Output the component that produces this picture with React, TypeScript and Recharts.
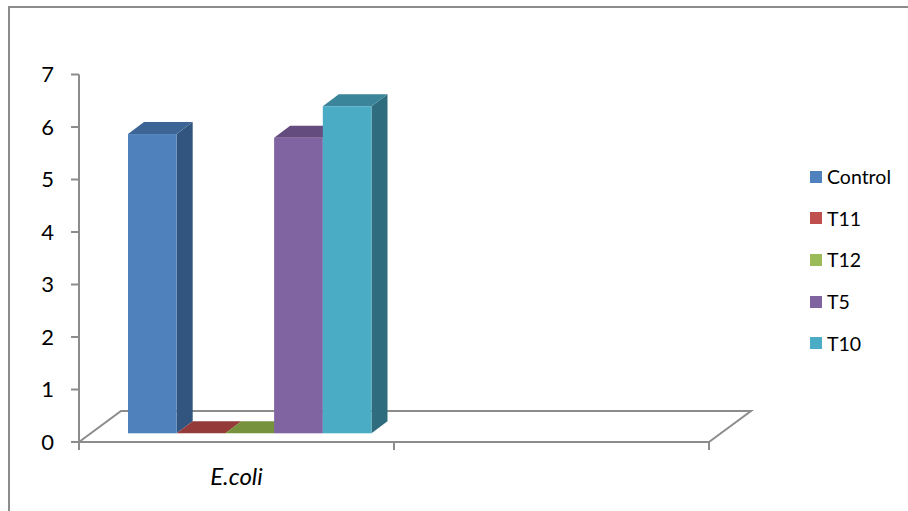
import React from 'react';
import { BarChart, Bar, XAxis, YAxis, Legend, Customized } from 'recharts';

const categories = ['E.coli', ''];
const seriesNames = ['Control', 'T11', 'T12', 'T5', 'T10'];
const controlValues = [5.7, null];
const t11Values = [0, null];
const t12Values = [0, null];
const t5Values = [5.63, null];
const t10Values = [6.23, null];
const yTicks = [0, 1, 2, 3, 4, 5, 6, 7];

const frontColors = ['#4F81BD', '#C0504D', '#9BBB59', '#8064A2', '#4BACC6'];
const topColors = ['#3C6494', '#943A38', '#76923C', '#644C7E', '#3A8599'];
const sideColors = ['#32557F', '#7D302E', '#637B32', '#54406B', '#2F6C7D'];

const seriesValues = [controlValues, t11Values, t12Values, t5Values, t10Values];
const tableData = categories.map((name, i) => {
  const row: Record<string, string | number | null> = { name };
  seriesNames.forEach((s, j) => {
    row[s] = seriesValues[j][i];
  });
  return row;
});

const AXIS_COLOR = '#8C8C8C';
const FONT = 'Lato, "Open Sans", sans-serif';
const WIDTH = 908;
const HEIGHT = 511;
const LEGEND_WIDTH = 100;
const MARGIN = { top: 74.5, right: 99, bottom: 0, left: 0 };
const PLOT_LEFT = 79;
const PLOT_BOTTOM = 442;
const PLOT_RIGHT = 709;
const TICK_SIZE = 8;

// the depth of a column, and how far the columns stand in from the axis plane
const DEPTH_X = 16;
const DEPTH_Y = 12;
const INSET_X = 13;
const INSET_Y = 8.7;
const FLOOR_X = 42;
const FLOOR_Y = 31;

const makeColumn = (index: number) => (props: any) => {
  const { x, y, width, height } = props;
  const left = x + INSET_X;
  const right = left + width;
  const top = y - INSET_Y;
  const bottom = top + height;
  return (
    <g>
      <polygon
        points={`${right},${top} ${right + DEPTH_X},${top - DEPTH_Y} ${right + DEPTH_X},${bottom - DEPTH_Y} ${right},${bottom}`}
        fill={sideColors[index]}
      />
      <polygon
        points={`${left},${top} ${left + DEPTH_X},${top - DEPTH_Y} ${right + DEPTH_X},${top - DEPTH_Y} ${right},${top}`}
        fill={topColors[index]}
      />
      <rect x={left} y={top} width={width} height={height} fill={frontColors[index]} />
    </g>
  );
};

// floor outline, plus tick marks on the category boundaries
const Floor = () => {
  const step = (PLOT_RIGHT - PLOT_LEFT) / categories.length;
  return (
    <g stroke={AXIS_COLOR} strokeWidth={2} fill="none">
      <polyline
        points={`${PLOT_LEFT},${PLOT_BOTTOM} ${PLOT_LEFT + FLOOR_X},${PLOT_BOTTOM - FLOOR_Y} ${PLOT_RIGHT + FLOOR_X},${PLOT_BOTTOM - FLOOR_Y} ${PLOT_RIGHT},${PLOT_BOTTOM}`}
      />
      {[0, ...categories.map((_, i) => i + 1)].map((i) => (
        <line
          key={i}
          x1={PLOT_LEFT + i * step}
          x2={PLOT_LEFT + i * step}
          y1={PLOT_BOTTOM}
          y2={PLOT_BOTTOM + TICK_SIZE}
        />
      ))}
    </g>
  );
};

const LegendList = ({ payload }: any) => (
  <div style={{ fontFamily: FONT, fontSize: 19.5, color: '#000' }}>
    {(payload || []).map((entry: any) => (
      <div key={entry.value} style={{ display: 'flex', alignItems: 'center', height: 41.6 }}>
        <span style={{ width: 12, height: 12, marginRight: 5, background: entry.color }} />
        <span>{entry.value}</span>
      </div>
    ))}
  </div>
);

export default function App() {
  return (
    <div style={{ position: 'absolute', left: 0, top: 0, width: WIDTH, height: HEIGHT, background: '#fff', overflow: 'hidden' }}>
      {/* chart frame, only its top and left edges are visible */}
      <div style={{ position: 'absolute', left: 8, top: 6, width: 1000, height: 600, borderLeft: `2px solid ${AXIS_COLOR}`, borderTop: `2px solid ${AXIS_COLOR}` }} />
      <BarChart
        width={WIDTH}
        height={HEIGHT}
        data={tableData}
        margin={MARGIN}
        barGap={0}
        barSize={48.7}
        style={{ position: 'absolute', left: 0, top: 0 }}
      >
        <Customized component={Floor} />
        <XAxis
          dataKey="name"
          axisLine={{ stroke: AXIS_COLOR, strokeWidth: 2 }}
          tickLine={false}
          tickMargin={20}
          height={69}
          interval={0}
          tick={{ fontSize: 24, fontStyle: 'italic', fontFamily: FONT, fill: '#000' }}
        />
        <YAxis
          domain={[0, 7]}
          ticks={yTicks}
          width={79}
          tickSize={TICK_SIZE}
          tickMargin={17}
          interval={0}
          axisLine={{ stroke: AXIS_COLOR, strokeWidth: 2 }}
          tickLine={{ stroke: AXIS_COLOR, strokeWidth: 2 }}
          tick={{ fontSize: 22, fontFamily: FONT, fill: '#000' }}
        />
        <Legend
          layout="vertical"
          align="right"
          verticalAlign="top"
          width={LEGEND_WIDTH}
          itemSorter={null}
          wrapperStyle={{ left: 810, top: 156 }}
          content={<LegendList />}
        />
        {seriesNames.map((name, i) => (
          <Bar
            key={name}
            dataKey={name}
            fill={frontColors[i]}
            shape={makeColumn(i)}
            isAnimationActive={false}
          />
        ))}
      </BarChart>
    </div>
  );
}
